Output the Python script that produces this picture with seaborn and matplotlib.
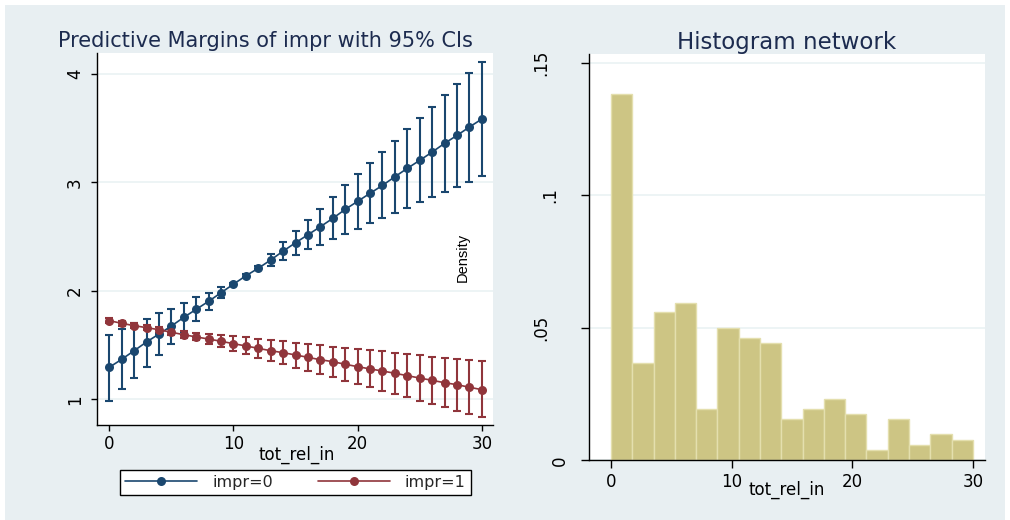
import numpy as np
import pandas as pd
import matplotlib
matplotlib.use("Agg")
import matplotlib.pyplot as plt
import seaborn as sns
from matplotlib.lines import Line2D
from matplotlib.patches import Rectangle

# ---------------- data ----------------
tot_rel_in = list(range(31))

impr0_margin = [1.295, 1.369, 1.448, 1.529, 1.602, 1.676, 1.756, 1.830, 1.904, 1.983,
                2.062, 2.139, 2.209, 2.285, 2.367, 2.444, 2.518, 2.592, 2.669, 2.752,
                2.826, 2.900, 2.973, 3.053, 3.130, 3.204, 3.280, 3.361, 3.434, 3.511, 3.585]
impr0_lower = [0.987, 1.095, 1.199, 1.301, 1.406, 1.510, 1.624, 1.722, 1.824, 1.930,
               2.047, 2.124, 2.192, 2.230, 2.287, 2.330, 2.383, 2.422, 2.481, 2.524,
               2.573, 2.622, 2.672, 2.720, 2.767, 2.816, 2.862, 2.911, 2.955, 3.007, 3.059]
impr0_upper = [1.596, 1.646, 1.701, 1.744, 1.793, 1.836, 1.888, 1.941, 1.983, 2.038,
               2.077, 2.154, 2.226, 2.340, 2.447, 2.554, 2.653, 2.757, 2.862, 2.973,
               3.077, 3.179, 3.283, 3.385, 3.490, 3.594, 3.698, 3.803, 3.908, 4.012, 4.114]

impr1_margin = [1.725, 1.701, 1.679, 1.661, 1.642, 1.618, 1.596, 1.575, 1.556, 1.535,
                1.513, 1.492, 1.470, 1.448, 1.430, 1.409, 1.387, 1.365, 1.347, 1.323,
                1.301, 1.280, 1.261, 1.240, 1.218, 1.196, 1.175, 1.153, 1.135, 1.111, 1.089]
impr1_lower = [1.702, 1.680, 1.658, 1.638, 1.615, 1.590, 1.566, 1.544, 1.513, 1.480,
               1.448, 1.415, 1.384, 1.356, 1.323, 1.292, 1.261, 1.231, 1.203, 1.169,
               1.138, 1.111, 1.079, 1.049, 1.018, 0.987, 0.957, 0.929, 0.895, 0.864, 0.834]
impr1_upper = [1.747, 1.722, 1.700, 1.684, 1.668, 1.646, 1.626, 1.609, 1.600, 1.590,
               1.581, 1.572, 1.559, 1.550, 1.538, 1.522, 1.510, 1.498, 1.485, 1.473,
               1.467, 1.455, 1.443, 1.430, 1.418, 1.406, 1.393, 1.381, 1.372, 1.365, 1.353]

group_labels = ["impr=0", "impr=1"]

hist_range = (0.0, 30.0)
hist_density = [0.1381, 0.0366, 0.0558, 0.0595, 0.0192, 0.0499, 0.0462, 0.0441, 0.0155,
                0.0192, 0.0232, 0.0174, 0.0039, 0.0155, 0.0059, 0.0098, 0.0077]

left_yticks = [1, 2, 3, 4]
left_xticks = [0, 10, 20, 30]
right_yticks = [0, 0.05, 0.10, 0.15]
right_yticklabels = ["0", ".05", ".1", ".15"]
right_xticks = [0, 10, 20, 30]

# ---------------- style ----------------
BLUE = "#1a476f"
RED = "#90353b"
BAR = "#cdc584"
BAR_EDGE = "#e4dfae"
BG = "#e8eff2"
GRID = "#eaf2f3"
TITLE_C = "#1c2b4f"

sns.set_theme(style="white")
plt.rcParams["font.family"] = ["DejaVu Sans"]

W, H = 1010, 520
fig = plt.figure(figsize=(W / 100, H / 100), dpi=100)
fig.patch.set_facecolor("white")
fig.patches.append(Rectangle((5 / W, -0.01), 1000 / W, 515 / H + 0.01,
                             transform=fig.transFigure,
                             facecolor=BG, edgecolor="none", zorder=-10))

def fx(px):
    return px / W

def fy(py):
    return 1 - py / H

ax1 = fig.add_axes([fx(97), fy(425), fx(493) - fx(97), fy(53) - fy(425)])
ax2 = fig.add_axes([fx(588.7), fy(460.3), fx(985) - fx(588.7), fy(54.3) - fy(460.3)])

TICK_FS = 12

# ---------------- left panel ----------------
df = pd.DataFrame({
    "tot_rel_in": tot_rel_in * 2,
    "margin": impr0_margin + impr1_margin,
    "group": [group_labels[0]] * len(tot_rel_in) + [group_labels[1]] * len(tot_rel_in),
})
palette = {group_labels[0]: BLUE, group_labels[1]: RED}

x_arr = np.array(tot_rel_in)
for lo, hi, m, c in [(impr0_lower, impr0_upper, impr0_margin, BLUE),
                     (impr1_lower, impr1_upper, impr1_margin, RED)]:
    m = np.array(m)
    ax1.errorbar(x_arr, m, yerr=[m - np.array(lo), np.array(hi) - m], fmt="none",
                 ecolor=c, elinewidth=1.5, capsize=3, capthick=1.5, zorder=2)

sns.lineplot(data=df, x="tot_rel_in", y="margin", hue="group", palette=palette,
             marker="o", markersize=6.5, markeredgewidth=0, linewidth=1.2,
             legend=False, ax=ax1, zorder=3)

ax1.set_facecolor("white")
ax1.set_xlim(-0.99, 30.9)
ax1.set_ylim(0.763, 4.194)
ax1.set_xticks(left_xticks)
ax1.set_yticks(left_yticks)
ax1.set_xticklabels([str(t) for t in left_xticks])
ax1.set_yticklabels([str(t) for t in left_yticks], rotation=90, va="center")
ax1.grid(axis="y", color=GRID, linewidth=1.2)
ax1.grid(axis="x", visible=False)
ax1.set_axisbelow(True)
for s in ["top", "right"]:
    ax1.spines[s].set_visible(False)
for s in ["left", "bottom"]:
    ax1.spines[s].set_color("black")
    ax1.spines[s].set_linewidth(1.0)
ax1.tick_params(axis="both", direction="out", length=4.5, width=1, color="black",
                labelsize=TICK_FS, labelcolor="black", left=True, bottom=True)
ax1.tick_params(axis="y", pad=5)
ax1.tick_params(axis="x", pad=3)
ax1.set_xlabel("")
ax1.set_ylabel("")

fig.text(fx(265), fy(41), "Predictive Margins of impr with 95% CIs", ha="center",
         va="center", fontsize=15, color=TITLE_C)
fig.text(fx(297), fy(455), "tot_rel_in", ha="center", va="center", fontsize=TICK_FS,
         color="black")

handles = [Line2D([0], [0], color=BLUE, lw=1.2, marker="o", markersize=6.5,
                  markeredgewidth=0),
           Line2D([0], [0], color=RED, lw=1.2, marker="o", markersize=6.5,
                  markeredgewidth=0)]
leg = fig.legend(handles, group_labels, loc="center", bbox_to_anchor=(fx(295.5), fy(482.5)),
                 ncol=2, fontsize=11.5, frameon=True, fancybox=False, numpoints=1,
                 handlelength=4.5, handletextpad=0.95, columnspacing=2.8,
                 borderpad=0.3, borderaxespad=0)
leg.get_frame().set_edgecolor("black")
leg.get_frame().set_linewidth(1.0)
leg.get_frame().set_facecolor("white")
leg.get_frame().set_alpha(1)

fig.text(fx(463), fy(257), "Density", rotation=90, ha="center", va="center",
         fontsize=10.5, color="black", family=["Liberation Sans", "DejaVu Sans"])

# ---------------- right panel ----------------
nb = len(hist_density)
bw = (hist_range[1] - hist_range[0]) / nb
hist_df = pd.DataFrame({"tot_rel_in": hist_range[0] + bw * (np.arange(nb) + 0.5),
                        "density": hist_density})
sns.histplot(data=hist_df, x="tot_rel_in", weights="density", bins=nb,
             binrange=hist_range, stat="count",
             color=BAR, edgecolor=BAR_EDGE, linewidth=1.0, alpha=1, ax=ax2)

ax2.set_facecolor("white")
ax2.set_xlim(-1.85, 31.0)
ax2.set_ylim(0, 0.1532)
ax2.set_xticks(right_xticks)
ax2.set_xticklabels([str(t) for t in right_xticks])
ax2.set_yticks(right_yticks)
ax2.set_yticklabels(right_yticklabels, rotation=90, va="center")
ax2.grid(axis="y", color=GRID, linewidth=1.2)
ax2.grid(axis="x", visible=False)
ax2.set_axisbelow(True)
for s in ["top", "right"]:
    ax2.spines[s].set_visible(False)
for s in ["left", "bottom"]:
    ax2.spines[s].set_color("black")
    ax2.spines[s].set_linewidth(1.0)
ax2.tick_params(axis="both", direction="out", length=6, width=1, color="black",
                labelsize=TICK_FS, labelcolor="black", left=True, bottom=True)
ax2.tick_params(axis="x", pad=3)
ax2.set_xlabel("")
ax2.set_ylabel("")
for t, p in zip(ax2.yaxis.get_major_ticks(), [8, 22, 15, 22]):
    t.set_pad(p)

fig.text(fx(787), fy(42.5), "Histogram network", ha="center", va="center",
         fontsize=16.5, color=TITLE_C)
fig.text(fx(787), fy(490), "tot_rel_in", ha="center", va="center", fontsize=TICK_FS,
         color="black")

fig.savefig("out.png", dpi=100, facecolor=fig.get_facecolor())
